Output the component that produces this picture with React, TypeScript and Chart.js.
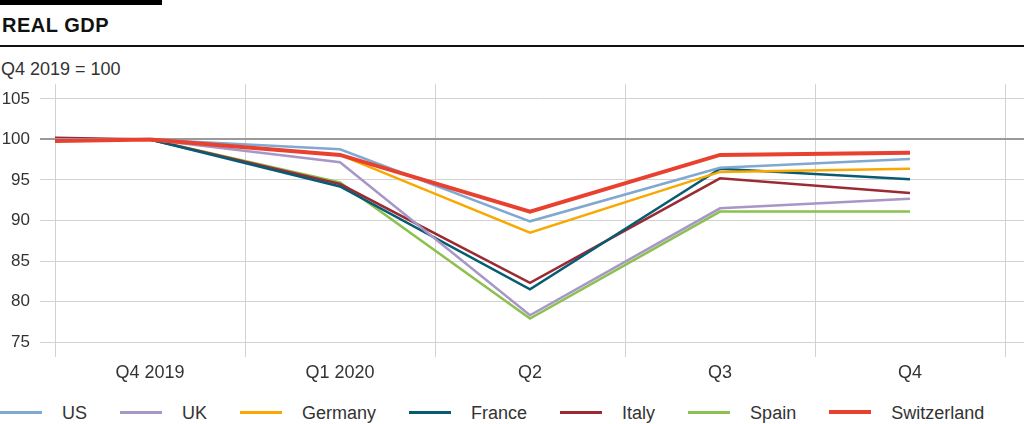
import React, { useEffect, useRef } from "react";
import { Chart, registerables } from "chart.js";

Chart.register(...registerables);

const categories = ["Q4 2019", "Q1 2020", "Q2", "Q3", "Q4"];
// x positions in axis units: an axis-start point, then category centres
const xValues = [0, 0.5, 1.5, 2.5, 3.5, 4.5];
const yTicks = [75, 80, 85, 90, 95, 100, 105];

const us = [100, 100, 98.8, 89.9, 96.5, 97.6];
const uk = [100, 100, 97.2, 78.3, 91.5, 92.7];
const germany = [100, 100, 98.1, 88.5, 96.0, 96.4];
const france = [100, 100, 94.2, 81.5, 96.4, 95.1];
const italy = [100.2, 100, 94.5, 82.3, 95.2, 93.4];
const spain = [100, 100, 94.7, 77.9, 91.1, 91.1];
const switzerland = [99.8, 100, 98.1, 91.1, 98.1, 98.35];

const seriesNames = ["US", "UK", "Germany", "France", "Italy", "Spain", "Switzerland"];
const seriesValues = [us, uk, germany, france, italy, spain, switzerland];
const seriesColors = ["#80a8d0", "#a797c6", "#f8a800", "#075b72", "#9c2a33", "#8cc04f", "#e8412f"];
const seriesWidths = [2.5, 2.5, 2.5, 2.5, 2.5, 2.5, 4];

const FONT = "'Liberation Sans', Arial, sans-serif";

export default function App() {
  const canvasRef = useRef<HTMLCanvasElement | null>(null);

  useEffect(() => {
    document.body.style.margin = "0";
    const canvas = canvasRef.current;
    if (!canvas) return;
    const datasets = seriesNames.map((name, i) => ({
      label: name,
      data: seriesValues[i].map((y, j) => ({ x: xValues[j], y })),
      borderColor: seriesColors[i],
      backgroundColor: seriesColors[i],
      borderWidth: seriesWidths[i],
      pointRadius: 0,
      tension: 0,
      fill: false,
      order: name === "Switzerland" ? 0 : 1,
    }));
    const chart = new Chart(canvas, {
      type: "line",
      data: { datasets },
      options: {
        animation: false,
        responsive: false,
        maintainAspectRatio: false,
        layout: { padding: { top: 4, right: 0, left: 0, bottom: 0 } },
        plugins: { legend: { display: false }, tooltip: { enabled: false } },
        scales: {
          x: {
            type: "linear",
            min: 0,
            max: 5.1,
            border: { display: false },
            afterBuildTicks: (scale: any) => {
              const t = [];
              for (let v = 0; v <= 5; v += 0.5) t.push({ value: v });
              scale.ticks = t;
            },
            afterFit: (scale: any) => {
              scale.height = 33;
              scale.paddingLeft = 0;
              scale.paddingRight = 0;
            },
            grid: {
              drawTicks: false,
              color: (ctx: any) =>
                ctx.tick && Number.isInteger(ctx.tick.value) ? "#d2d2d2" : "rgba(0,0,0,0)",
              lineWidth: 1,
            },
            ticks: {
              autoSkip: false,
              maxRotation: 0,
              minRotation: 0,
              padding: 5,
              color: "#333",
              font: { family: FONT, size: 18 },
              callback: (value: any) => {
                const v = Number(value);
                if (Number.isInteger(v)) return "";
                return categories[Math.floor(v)] ?? "";
              },
            },
          },
          y: {
            min: 73.15,
            max: 106.85,
            border: { display: false },
            afterBuildTicks: (scale: any) => {
              scale.ticks = yTicks.map((v) => ({ value: v }));
            },
            afterFit: (scale: any) => {
              scale.width = 55;
              scale.paddingTop = 0;
              scale.paddingBottom = 0;
            },
            grid: {
              drawTicks: true,
              tickLength: 15,
              color: (ctx: any) => (ctx.tick && ctx.tick.value === 100 ? "#9a9a9a" : "#d2d2d2"),
              lineWidth: (ctx: any) => (ctx.tick && ctx.tick.value === 100 ? 2 : 1),
            },
            ticks: {
              padding: 10,
              color: "#333",
              font: { family: FONT, size: 17 },
              callback: (value: any) => String(value),
            },
          },
        },
      },
    });
    return () => chart.destroy();
  }, []);

  return (
    <div style={{ position: "relative", width: 1024, height: 424, fontFamily: FONT, color: "#222" }}>
      <div style={{ position: "absolute", left: 0, top: 0, width: 162, height: 5, background: "#000" }} />
      <div
        style={{
          position: "absolute",
          left: 2,
          top: 15,
          fontSize: 20,
          lineHeight: "20px",
          fontWeight: "bold",
          letterSpacing: 0.5,
          color: "#111",
          whiteSpace: "nowrap",
        }}
      >
        REAL GDP
      </div>
      <div style={{ position: "absolute", left: 0, top: 45, width: 1024, height: 2, background: "#111" }} />
      <div
        style={{
          position: "absolute",
          left: 1,
          top: 60,
          fontSize: 18,
          lineHeight: "18px",
          color: "#333",
          whiteSpace: "nowrap",
        }}
      >
        Q4 2019 = 100
      </div>
      <canvas
        ref={canvasRef}
        width={1024}
        height={310}
        style={{ position: "absolute", left: 0, top: 80, width: 1024, height: 310 }}
      />
      <div
        style={{
          position: "absolute",
          left: 0,
          top: 404,
          display: "flex",
          alignItems: "center",
          gap: 33,
          fontSize: 18,
          lineHeight: "18px",
          color: "#333",
          whiteSpace: "nowrap",
        }}
      >
        {seriesNames.map((name, i) => (
          <div key={name} style={{ display: "flex", alignItems: "center" }}>
            <div
              style={{
                width: 42,
                height: name === "Switzerland" ? 4 : 3,
                background: seriesColors[i],
                marginRight: 20,
                position: "relative",
                top: -1,
              }}
            />
            <span>{name}</span>
          </div>
        ))}
      </div>
    </div>
  );
}
